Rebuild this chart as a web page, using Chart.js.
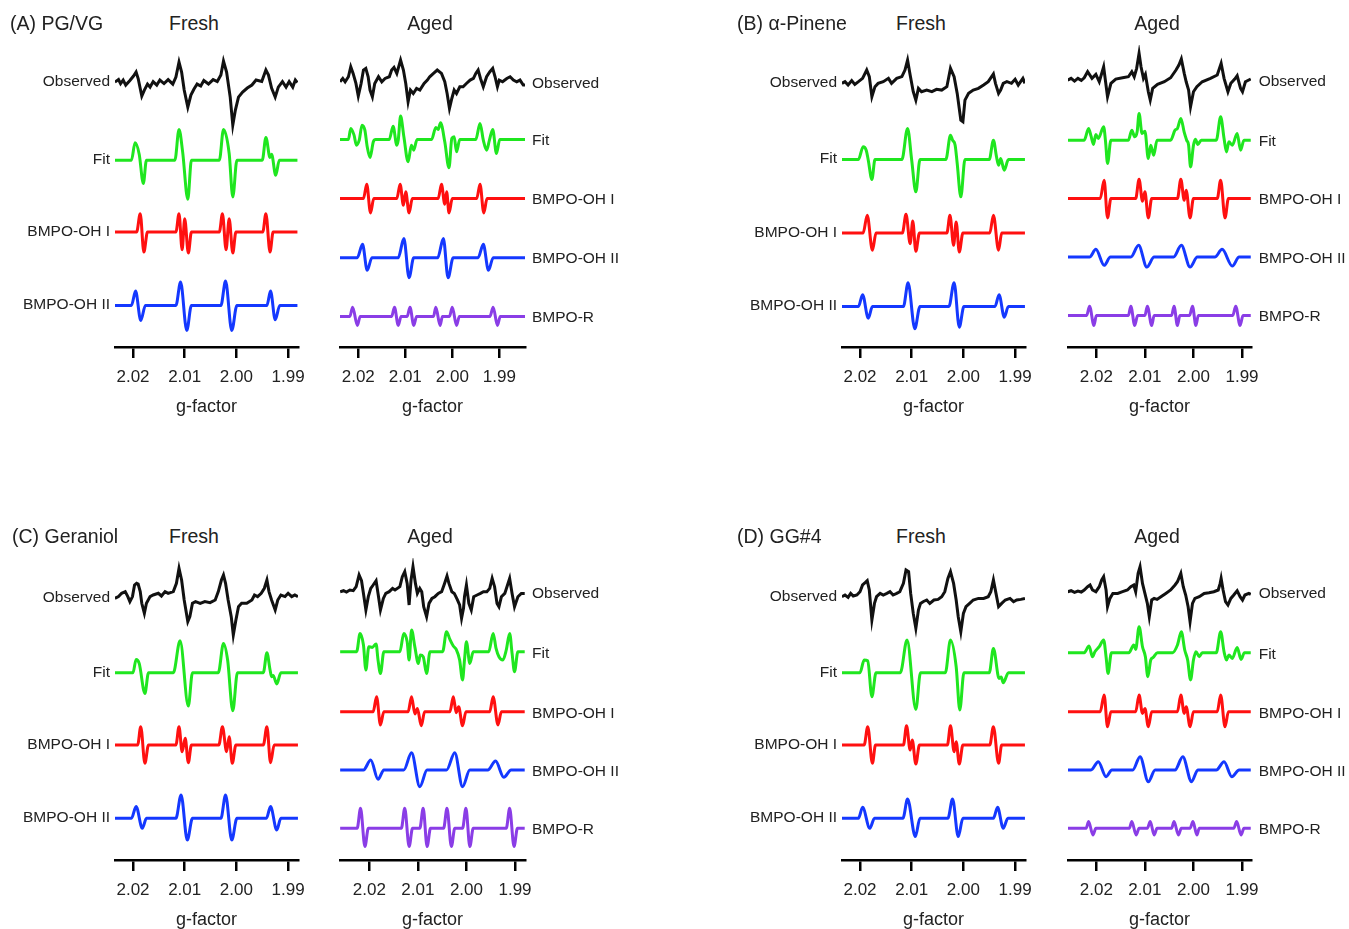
<!DOCTYPE html>
<html>
<head>
<meta charset="utf-8">
<script src="https://cdn.jsdelivr.net/npm/chart.js@4.4.1/dist/chart.umd.min.js"></script>
<style>
  body{margin:0;background:#fff;width:1349px;height:929px;overflow:hidden;position:relative;}
  .txt{position:absolute;white-space:nowrap;color:#222;font-family:'Liberation Sans',Arial,sans-serif;}
</style>
</head>
<body>
<script>
// g-factor ticks
const gTicks = [2.02, 2.01, 2.00, 1.99];

// each trace: [g-factor, signal] pairs, signal in arbitrary units (up = positive)
// (A) PG/VG fresh
const freshA_obs = [[2.0235,0],[2.0228,2.5],[2.0224,-1.5],[2.0219,2],[2.0214,-3],[2.0206,1.5],[2.0199,6],[2.0194,10],[2.0190,3.5],[2.0183,-14],[2.0178,-8],[2.0172,-2],[2.0167,-5],[2.0161,0.5],[2.0154,-3],[2.0148,2],[2.0140,-1.5],[2.0132,2.5],[2.0123,-2],[2.0117,5],[2.0111,20],[2.0106,10],[2.0101,-8],[2.0094,-25],[2.0088,-13],[2.0082,-7],[2.0076,-2],[2.0069,-4],[2.0063,1.5],[2.0054,-2],[2.0045,2.5],[2.0037,0.5],[2.0030,7],[2.0025,21],[2.0019,10],[2.0012,-15],[2.0007,-43],[2.0002,-28],[1.9996,-15],[1.9988,-10],[1.9979,-6],[1.9970,-3],[1.9962,2],[1.9951,0.5],[1.9943,12],[1.9938,7],[1.9932,-6],[1.9925,-15],[1.9919,-5],[1.9911,0.5],[1.9904,-5],[1.9898,0.5],[1.9891,-5],[1.9886,2],[1.9882,-0.5]];
const freshA_fit = [[2.0235,0],[2.0203,0],[2.0196,17.3],[2.0188,6],[2.0180,-23.3],[2.0174,0],[2.0119,0],[2.0111,30.7],[2.0104,8.3],[2.0094,-39],[2.0087,0],[2.0033,0],[2.0025,30.7],[2.0014,6.7],[2.0007,-36.7],[1.9999,0],[1.9950,0],[1.9943,22.7],[1.9935,2.7],[1.9932,6],[1.9924,-15],[1.9917,0],[1.9882,0]];
const freshA_oh1 = [[2.0235,0],[2.0193,0],[2.0186,18.3],[2.0179,-20],[2.0172,0],[2.0117,0],[2.0111,18.3],[2.0105,-17.7],[2.0100,13.3],[2.0093,-21],[2.0087,0],[2.0033,0],[2.0027,18.3],[2.0020,-17.7],[2.0014,13.3],[2.0007,-21],[2.0001,0],[1.9949,0],[1.9943,18.3],[1.9935,-20],[1.9929,0],[1.9882,0]];
const freshA_oh2 = [[2.0235,0],[2.0203,0],[2.0195,14.3],[2.0185,-15],[2.0176,0],[2.0117,0],[2.0108,23.3],[2.0096,-25],[2.0087,0],[2.0030,0],[2.0021,24.3],[2.0009,-25],[1.9999,0],[1.9941,0],[1.9934,14.3],[1.9925,-14.3],[1.9916,0],[1.9882,0]];

// (A) PG/VG aged
const agedA_obs = [[2.0239,0],[2.0233,3.3],[2.0228,0],[2.0221,5],[2.0216,15],[2.0211,8.3],[2.0205,-1.7],[2.0200,-14.3],[2.0194,-1.7],[2.0189,11.7],[2.0184,13.3],[2.0179,5],[2.0175,-8.3],[2.0170,-15],[2.0165,-1.7],[2.0157,5],[2.0150,0],[2.0143,3.3],[2.0134,5],[2.0129,11.7],[2.0124,14.3],[2.0118,8.3],[2.0110,21.7],[2.0104,11.7],[2.0099,-1.7],[2.0094,-20],[2.0089,-8.3],[2.0083,-11.7],[2.0076,-6.7],[2.0069,-8.3],[2.0060,-1.7],[2.0053,1.7],[2.0048,5],[2.0040,8.3],[2.0032,11.7],[2.0023,8.3],[2.0016,0],[2.0011,-11.7],[2.0006,-26.7],[2.0001,-16.7],[1.9996,-8.3],[1.9991,-11.7],[1.9984,-5],[1.9977,-5],[1.9970,-1.7],[1.9962,1.7],[1.9955,3.3],[1.9950,8.3],[1.9945,11.7],[1.9940,3.3],[1.9934,-5],[1.9927,5],[1.9920,10],[1.9914,13.3],[1.9909,5],[1.9904,-5],[1.9900,1.7],[1.9893,0],[1.9884,3.3],[1.9877,5],[1.9870,1.7],[1.9863,0],[1.9856,1.7],[1.9849,-3.3],[1.9845,-3.3]];
const agedA_fit = [[2.0239,0],[2.0221,0],[2.0216,11],[2.0209,4.3],[2.0204,-5.7],[2.0198,-0.7],[2.0192,14.3],[2.0186,9.3],[2.0181,-7.3],[2.0175,-18],[2.0168,-2.3],[2.0163,0],[2.0134,0],[2.0126,13.3],[2.0118,-5.7],[2.0115,-0.7],[2.0110,23.3],[2.0103,2.7],[2.0094,-22.3],[2.0087,-5.7],[2.0082,-10.7],[2.0075,0],[2.0044,0],[2.0035,12],[2.0030,10],[2.0025,16.7],[2.0016,-2.3],[2.0007,-28.3],[2.0001,1],[1.9996,2.7],[1.9991,-12.3],[1.9984,0],[1.9950,0],[1.9941,16],[1.9934,-0.7],[1.9927,-10.7],[1.9921,-0.7],[1.9914,10],[1.9906,-14],[1.9899,0],[1.9845,0]];
const agedA_oh1 = [[2.0239,0],[2.0189,0],[2.0182,14.3],[2.0174,-14.3],[2.0167,0],[2.0118,0],[2.0111,14.3],[2.0104,-6.7],[2.0099,6.7],[2.0092,-14.3],[2.0085,0],[2.0030,0],[2.0023,14.3],[2.0016,-5.7],[2.0012,6.7],[2.0007,-14.3],[2.0000,0],[1.9948,0],[1.9941,14.3],[1.9933,-14.3],[1.9926,0],[1.9845,0]];
const agedA_oh2 = [[2.0239,0],[2.0202,0],[2.0191,13.3],[2.0181,-12.7],[2.0171,0],[2.0115,0],[2.0103,19],[2.0092,-20],[2.0082,0],[2.0031,0],[2.0019,19],[2.0009,-20],[1.9998,0],[1.9945,0],[1.9934,13.3],[1.9923,-12.7],[1.9913,0],[1.9845,0]];
const agedA_r = [[2.0239,0],[2.0218,0],[2.0212,9.3],[2.0202,-9],[2.0196,0],[2.0129,0],[2.0123,9.3],[2.0115,-9],[2.0109,0],[2.0096,0],[2.0090,9.3],[2.0082,-9],[2.0076,0],[2.0040,0],[2.0035,9.3],[2.0026,-9],[2.0021,0],[2.0006,0],[2.0000,9.3],[1.9991,-9],[1.9985,0],[1.9920,0],[1.9913,9.3],[1.9904,-9],[1.9898,0],[1.9845,0]];

// (B) alpha-pinene fresh
const freshB_obs = [[2.0235,0],[2.0229,1.7],[2.0223,-1.7],[2.0216,2.7],[2.0210,-1],[2.0203,1.7],[2.0195,5],[2.0187,13.3],[2.0182,6.7],[2.0177,-13.3],[2.0171,-3.3],[2.0165,0],[2.0155,1.7],[2.0145,5],[2.0139,0],[2.0129,5],[2.0119,6.7],[2.0113,13.3],[2.0108,23.3],[2.0103,8.3],[2.0097,-8.3],[2.0092,-16.7],[2.0087,-5],[2.0081,-8.3],[2.0071,-6.7],[2.0061,-8.3],[2.0052,-6],[2.0042,-6.7],[2.0032,-3.3],[2.0025,15],[2.0018,6.7],[2.0012,-10],[2.0005,-36.7],[2.0001,-38.3],[1.9997,-16.7],[1.9990,-10],[1.9981,-6.7],[1.9971,-5],[1.9961,-1.7],[1.9952,1.7],[1.9942,9.3],[1.9938,0],[1.9932,-10],[1.9928,-6.7],[1.9923,0],[1.9916,1.7],[1.9907,0],[1.9900,4],[1.9894,-1.7],[1.9885,5],[1.9881,0]];
const freshB_fit = [[2.0235,0],[2.0203,0],[2.0194,12.7],[2.0188,9.3],[2.0184,-0.7],[2.0177,-20],[2.0171,0],[2.0119,0],[2.0108,31],[2.0100,-0.7],[2.0092,-32.3],[2.0084,0],[2.0034,0],[2.0025,24.3],[2.0021,19.3],[2.0016,14.3],[2.0012,-4],[2.0005,-37.3],[1.9997,0],[1.9950,0],[1.9942,19.3],[1.9936,2.7],[1.9932,-5.7],[1.9928,1],[1.9921,-10.7],[1.9913,0],[1.9881,0]];
const freshB_oh1 = [[2.0235,0],[2.0194,0],[2.0186,17.7],[2.0176,-17.3],[2.0169,0],[2.0118,0],[2.0111,18.7],[2.0103,-10.7],[2.0098,12],[2.0092,-18.3],[2.0085,0],[2.0032,0],[2.0026,17.7],[2.0019,-12.3],[2.0014,11],[2.0008,-19],[2.0001,0],[1.9949,0],[1.9942,17.7],[1.9932,-17.3],[1.9926,0],[1.9881,0]];
const freshB_oh2 = [[2.0235,0],[2.0203,0],[2.0195,11.7],[2.0184,-11.7],[2.0176,0],[2.0116,0],[2.0107,23.7],[2.0094,-22.3],[2.0084,0],[2.0028,0],[2.0018,23.7],[2.0008,-20.7],[1.9999,0],[1.9939,0],[1.9931,11.7],[1.9921,-10.7],[1.9913,0],[1.9881,0]];

// (B) alpha-pinene aged
const agedB_obs = [[2.0259,0],[2.0252,1.7],[2.0245,-1],[2.0238,1.7],[2.0231,-0.3],[2.0225,2.3],[2.0218,8.3],[2.0209,1.7],[2.0201,5.7],[2.0194,-1.7],[2.0185,13.3],[2.0177,-16.7],[2.0170,-3.3],[2.0160,1],[2.0146,2.3],[2.0134,3.3],[2.0127,8.3],[2.0122,3.3],[2.0117,11.7],[2.0112,26.7],[2.0108,13.3],[2.0103,1.7],[2.0099,5.7],[2.0093,-11.7],[2.0089,-20],[2.0084,-8.3],[2.0074,-4.3],[2.0060,-1.7],[2.0047,2.3],[2.0036,10],[2.0030,15],[2.0025,21],[2.0019,6.7],[2.0015,-1.7],[2.0010,-10],[2.0006,-26.7],[2.0000,-11.7],[1.9993,-6.7],[1.9982,-1.7],[1.9965,1.7],[1.9951,5],[1.9943,16.7],[1.9937,1.7],[1.9929,-11.7],[1.9923,-3.3],[1.9915,1],[1.9910,4.3],[1.9903,-8.3],[1.9899,-11.7],[1.9893,-1.7],[1.9882,1]];
const agedB_fit = [[2.0259,0],[2.0225,0],[2.0216,11.7],[2.0211,4.3],[2.0206,-4.3],[2.0201,5.7],[2.0196,1.7],[2.0185,13.3],[2.0181,-1.7],[2.0177,-23.3],[2.0170,0],[2.0134,0],[2.0127,10],[2.0121,3.3],[2.0116,8.3],[2.0112,26.7],[2.0106,6.7],[2.0100,9],[2.0093,-18.3],[2.0088,-5],[2.0082,-15],[2.0075,0],[2.0047,0],[2.0038,10],[2.0033,11.7],[2.0026,21.7],[2.0019,7.7],[2.0014,0],[2.0010,-5],[2.0006,-26.7],[2.0000,-5],[1.9996,1],[1.9991,-4.3],[1.9984,0],[1.9953,0],[1.9944,23.3],[1.9937,1.7],[1.9932,-11.7],[1.9927,-1.7],[1.9920,-5],[1.9910,6.7],[1.9903,-10],[1.9896,0],[1.9882,0]];
const agedB_oh1 = [[2.0259,0],[2.0192,0],[2.0184,18.3],[2.0177,-19.3],[2.0170,0],[2.0119,0],[2.0112,19.3],[2.0105,-2.7],[2.0100,6.7],[2.0093,-19.3],[2.0086,0],[2.0033,0],[2.0026,19.3],[2.0019,-1.7],[2.0015,8.3],[2.0007,-19.3],[2.0000,0],[1.9951,0],[1.9944,18.3],[1.9935,-19.3],[1.9928,0],[1.9882,0]];
const agedB_oh2 = [[2.0259,0],[2.0214,0],[2.0201,7.7],[2.0184,-8.3],[2.0171,0],[2.0129,0],[2.0113,11.7],[2.0096,-10],[2.0081,0],[2.0041,0],[2.0025,11.7],[2.0007,-10],[1.9992,0],[1.9956,0],[1.9941,7.7],[1.9920,-9],[1.9906,0],[1.9882,0]];
const agedB_r = [[2.0259,0],[2.0220,0],[2.0214,9.3],[2.0205,-10],[2.0200,0],[2.0134,0],[2.0129,9.3],[2.0121,-10],[2.0115,0],[2.0100,0],[2.0095,9.3],[2.0086,-10],[2.0081,0],[2.0045,0],[2.0040,9.3],[2.0033,-10],[2.0028,0],[2.0008,0],[2.0002,9.3],[1.9995,-10],[1.9990,0],[1.9919,0],[1.9913,9.3],[1.9904,-10],[1.9898,0],[1.9882,0]];

// (C) geraniol fresh
const freshC_obs = [[2.0235,0],[2.0228,1.7],[2.0222,5],[2.0215,6.7],[2.0210,1.7],[2.0206,-3.3],[2.0201,1.7],[2.0197,13.3],[2.0193,15],[2.0190,14.3],[2.0186,6.7],[2.0183,-5],[2.0178,-15],[2.0174,-5],[2.0167,1.7],[2.0161,3.3],[2.0151,5],[2.0145,2.3],[2.0138,6.7],[2.0132,5],[2.0122,6.7],[2.0116,15],[2.0111,30],[2.0106,18.3],[2.0101,-1.7],[2.0094,-23.3],[2.0090,-18.3],[2.0085,-5],[2.0079,-3.3],[2.0070,-5],[2.0061,-3.3],[2.0051,-4.3],[2.0041,-1.7],[2.0035,6.7],[2.0029,18.3],[2.0025,23.3],[2.0021,15],[2.0016,-1.7],[2.0010,-18.3],[2.0006,-36.7],[2.0001,-21.7],[1.9996,-8.3],[1.9990,-5],[1.9980,-5],[1.9970,-1.7],[1.9965,3.3],[1.9959,1.7],[1.9952,5],[1.9946,10],[1.9941,18.3],[1.9937,6.7],[1.9932,-1.7],[1.9925,-11.7],[1.9920,-1.7],[1.9914,3.3],[1.9906,1.7],[1.9900,5],[1.9893,1.7],[1.9887,3.3],[1.9881,1.7]];
const freshC_fit = [[2.0235,0],[2.0200,0],[2.0194,13.3],[2.0188,9.3],[2.0177,-20.7],[2.0170,0],[2.0122,0],[2.0109,32],[2.0093,-33.3],[2.0085,0],[2.0035,0],[2.0025,29.3],[2.0017,12.7],[2.0007,-38],[1.9998,0],[1.9948,0],[1.9941,20],[1.9935,3],[1.9932,-4],[1.9929,-2.7],[1.9922,-11.3],[1.9914,0],[1.9881,0]];
const freshC_oh1 = [[2.0235,0],[2.0191,0],[2.0185,18.3],[2.0177,-18.3],[2.0170,0],[2.0117,0],[2.0111,18.3],[2.0105,-6.7],[2.0099,6.7],[2.0093,-17.7],[2.0087,0],[2.0034,0],[2.0027,18.3],[2.0019,-6.7],[2.0014,8.3],[2.0008,-18.3],[2.0001,0],[1.9948,0],[1.9941,18.3],[1.9934,-17.7],[1.9927,0],[1.9881,0]];
const freshC_oh2 = [[2.0235,0],[2.0203,0],[2.0194,11.7],[2.0182,-10],[2.0174,0],[2.0117,0],[2.0107,23.3],[2.0095,-21.7],[2.0085,0],[2.0030,0],[2.0021,23.3],[2.0009,-21.7],[1.9999,0],[1.9942,0],[1.9934,11.7],[1.9922,-11.7],[1.9914,0],[1.9881,0]];

// (C) geraniol aged
const agedC_obs = [[2.0260,0],[2.0253,1],[2.0247,-0.3],[2.0240,1.7],[2.0233,1],[2.0227,5],[2.0221,16.7],[2.0216,11],[2.0212,-1.7],[2.0207,-18.3],[2.0202,-5],[2.0197,3.3],[2.0192,6.7],[2.0186,11],[2.0182,-1.7],[2.0177,-18.3],[2.0171,-6.7],[2.0166,-1.7],[2.0159,0],[2.0152,3.3],[2.0147,1.7],[2.0137,5],[2.0132,15],[2.0127,20],[2.0122,8.3],[2.0118,-13.3],[2.0114,11.7],[2.0110,25],[2.0105,8.3],[2.0101,-1.7],[2.0096,3.3],[2.0092,0],[2.0088,-15],[2.0082,-25],[2.0077,-11.7],[2.0071,-6.7],[2.0065,-5],[2.0058,-1.7],[2.0051,0],[2.0045,8.3],[2.0040,15.7],[2.0036,8.3],[2.0030,0],[2.0025,-1.7],[2.0019,-7.7],[2.0014,-13.3],[2.0010,-26.7],[2.0006,-16.7],[2.0004,-5],[2.0000,6.7],[1.9995,-11.7],[1.9990,-18.3],[1.9985,-5],[1.9978,-3.3],[1.9971,-1.7],[1.9965,0],[1.9958,0],[1.9952,3.3],[1.9947,13.3],[1.9942,5],[1.9937,-11.7],[1.9933,-15],[1.9928,-5],[1.9921,-1.7],[1.9916,5.7],[1.9911,13.3],[1.9906,-1.7],[1.9901,-15],[1.9894,-5],[1.9887,-1.7],[1.9880,-1.7]];
const agedC_fit = [[2.0260,0],[2.0226,0],[2.0219,18.3],[2.0212,6.7],[2.0207,-18.3],[2.0201,5],[2.0194,4.3],[2.0186,7.7],[2.0182,-8.3],[2.0177,-21.7],[2.0170,0],[2.0137,0],[2.0129,18.3],[2.0122,10],[2.0118,-8.3],[2.0113,21.7],[2.0106,4.3],[2.0099,-11.7],[2.0095,-3.3],[2.0089,-5],[2.0082,-21.7],[2.0075,0],[2.0049,0],[2.0041,20],[2.0034,12.3],[2.0027,5.7],[2.0021,2.3],[2.0014,-8.3],[2.0008,-28.3],[2.0004,-8.3],[2.0000,10],[1.9993,-11.7],[1.9986,0],[1.9954,0],[1.9945,18.3],[1.9939,3.3],[1.9933,-5],[1.9925,-8.3],[1.9918,1.7],[1.9911,18.3],[1.9906,-1.7],[1.9901,-20],[1.9894,0],[1.9880,0]];
const agedC_oh1 = [[2.0260,0],[2.0192,0],[2.0185,15],[2.0177,-13.3],[2.0170,0],[2.0120,0],[2.0113,15],[2.0106,-2.3],[2.0101,3.3],[2.0093,-14],[2.0086,0],[2.0034,0],[2.0027,15],[2.0021,-1],[2.0016,5],[2.0008,-14],[2.0001,0],[1.9952,0],[1.9945,15],[1.9935,-13.3],[1.9928,0],[1.9880,0]];
const agedC_oh2 = [[2.0260,0],[2.0212,0],[2.0197,10],[2.0182,-9.3],[2.0170,0],[2.0129,0],[2.0113,17.3],[2.0096,-16.7],[2.0081,0],[2.0041,0],[2.0024,17.3],[2.0008,-16.7],[1.9993,0],[1.9956,0],[1.9940,9],[1.9923,-7.3],[1.9908,0],[1.9880,0]];
const agedC_r = [[2.0260,0],[2.0225,0],[2.0218,20],[2.0209,-18.3],[2.0202,0],[2.0134,0],[2.0127,20],[2.0118,-18.3],[2.0111,0],[2.0096,0],[2.0089,20],[2.0081,-18.3],[2.0074,0],[2.0047,0],[2.0040,20],[2.0031,-18.3],[2.0024,0],[2.0008,0],[2.0001,20],[1.9993,-18.3],[1.9986,0],[1.9918,0],[1.9911,20],[1.9902,-18.3],[1.9895,0],[1.9880,0]];

// (D) GG#4 fresh
const freshD_obs = [[2.0235,0],[2.0229,1.7],[2.0223,-0.7],[2.0218,3.3],[2.0213,0.7],[2.0206,1.7],[2.0200,5],[2.0195,11.7],[2.0190,14],[2.0186,16],[2.0182,6.7],[2.0177,-23.3],[2.0172,-6.7],[2.0168,0],[2.0161,3.3],[2.0155,1.7],[2.0148,3.3],[2.0142,5],[2.0136,1.7],[2.0129,3.3],[2.0123,5],[2.0116,13.3],[2.0111,26.7],[2.0106,25],[2.0102,3.3],[2.0097,-16.7],[2.0092,-31.7],[2.0087,-13.3],[2.0083,-6.7],[2.0078,-5],[2.0071,-3.3],[2.0065,-6.7],[2.0057,-3.3],[2.0049,-2.7],[2.0042,0],[2.0036,5],[2.0030,18.3],[2.0025,25],[2.0019,13.3],[2.0014,-3.3],[2.0010,-20],[2.0005,-35],[2.0000,-16.7],[1.9995,-10],[1.9988,-6.7],[1.9981,-3.3],[1.9971,-1.7],[1.9961,-1.7],[1.9952,0],[1.9947,5],[1.9942,16.7],[1.9937,3.3],[1.9932,-10],[1.9926,-6.7],[1.9919,-3.3],[1.9910,-1.7],[1.9903,-5],[1.9897,-3.3],[1.9889,-2.7],[1.9881,-1.7]];
const freshD_fit = [[2.0235,0],[2.0200,0],[2.0192,12.7],[2.0185,12],[2.0177,-24],[2.0169,0],[2.0122,0],[2.0109,32.7],[2.0092,-36.7],[2.0083,0],[2.0035,0],[2.0025,32.7],[2.0014,6],[2.0007,-37.3],[1.9999,0],[1.9950,0],[1.9942,24.3],[1.9931,-5.7],[1.9927,-4.3],[1.9923,-10],[1.9913,0],[1.9881,0]];
const freshD_oh1 = [[2.0235,0],[2.0192,0],[2.0185,18.3],[2.0176,-18.3],[2.0170,0],[2.0116,0],[2.0110,19.3],[2.0103,-5],[2.0099,5],[2.0092,-19],[2.0085,0],[2.0031,0],[2.0025,19.3],[2.0018,-6.7],[2.0014,3.3],[2.0008,-19],[2.0001,0],[1.9949,0],[1.9942,18.3],[1.9932,-18.3],[1.9926,0],[1.9881,0]];
const freshD_oh2 = [[2.0235,0],[2.0203,0],[2.0195,11],[2.0181,-10],[2.0172,0],[2.0117,0],[2.0108,19.3],[2.0093,-18.3],[2.0084,0],[2.0030,0],[2.0021,19.3],[2.0010,-18.3],[2.0001,0],[1.9942,0],[1.9934,11],[1.9923,-10],[1.9914,0],[1.9881,0]];

// (D) GG#4 aged
const agedD_obs = [[2.0259,0],[2.0252,1],[2.0245,-0.7],[2.0238,0.7],[2.0231,-0.3],[2.0225,1.7],[2.0218,5],[2.0213,6.7],[2.0208,1.7],[2.0201,0],[2.0194,5],[2.0189,11.7],[2.0185,15],[2.0180,1.7],[2.0177,-15],[2.0172,-6.7],[2.0166,-1.7],[2.0156,-1.7],[2.0146,0],[2.0136,1.7],[2.0129,5],[2.0123,6.7],[2.0119,0],[2.0114,18.3],[2.0110,25],[2.0105,8.3],[2.0100,-1.7],[2.0095,-11.7],[2.0091,-25],[2.0086,-8.3],[2.0081,-6.7],[2.0075,-7.7],[2.0067,-5],[2.0057,-1.7],[2.0047,1.7],[2.0038,6.7],[2.0033,10],[2.0026,18.3],[2.0021,5],[2.0016,-3.3],[2.0011,-15],[2.0007,-30],[2.0002,-11.7],[1.9997,-6.7],[1.9988,-5],[1.9978,-1.7],[1.9968,-1],[1.9958,0],[1.9949,1.7],[1.9945,8.3],[1.9943,13.3],[1.9939,1.7],[1.9934,-10],[1.9929,-13.3],[1.9923,-6.7],[1.9917,-3.3],[1.9910,1],[1.9904,-5],[1.9899,-8.3],[1.9894,-3.3],[1.9886,-1.7],[1.9882,-2.7]];
const agedD_fit = [[2.0259,0],[2.0225,0],[2.0215,6.7],[2.0208,-4],[2.0203,1],[2.0194,6],[2.0185,12.7],[2.0180,-4],[2.0176,-20.7],[2.0169,0],[2.0133,0],[2.0123,7.7],[2.0119,3.3],[2.0112,26],[2.0105,6],[2.0099,-4],[2.0094,-24],[2.0088,-7.3],[2.0083,-4.7],[2.0074,0],[2.0043,0],[2.0033,7.7],[2.0025,21],[2.0018,2.7],[2.0012,-7.3],[2.0006,-27.3],[2.0000,-7.3],[1.9995,1],[1.9988,-4],[1.9982,0],[1.9953,0],[1.9944,21],[1.9937,1],[1.9932,-7.3],[1.9927,-2.3],[1.9920,-5.7],[1.9910,5.3],[1.9902,-6.7],[1.9895,0],[1.9882,0]];
const agedD_oh1 = [[2.0259,0],[2.0192,0],[2.0184,16.7],[2.0177,-15],[2.0170,0],[2.0119,0],[2.0112,16.7],[2.0105,-1.7],[2.0100,3.3],[2.0093,-15],[2.0086,0],[2.0033,0],[2.0026,16.7],[2.0019,-1.7],[2.0015,5],[2.0007,-15],[2.0000,0],[1.9951,0],[1.9944,16.7],[1.9935,-15],[1.9928,0],[1.9882,0]];
const agedD_oh2 = [[2.0259,0],[2.0211,0],[2.0196,8.3],[2.0180,-6.7],[2.0168,0],[2.0125,0],[2.0110,13.3],[2.0093,-11.7],[2.0079,0],[2.0038,0],[2.0022,13.3],[2.0004,-11.7],[1.9991,0],[1.9953,0],[1.9937,8.3],[1.9921,-6.7],[1.9906,0],[1.9882,0]];
const agedD_r = [[2.0259,0],[2.0221,0],[2.0216,6.7],[2.0207,-6.7],[2.0201,0],[2.0132,0],[2.0127,6.7],[2.0118,-6.7],[2.0112,0],[2.0095,0],[2.0089,6.7],[2.0081,-6.7],[2.0075,0],[2.0045,0],[2.0040,6.7],[2.0031,-6.7],[2.0025,0],[2.0007,0],[2.0001,6.7],[1.9993,-6.7],[1.9988,0],[1.9917,0],[1.9911,6.7],[1.9902,-6.7],[1.9896,0],[1.9882,0]];

const FONT = "'Liberation Sans', Arial, sans-serif";
const PAD = 40;
const COL = {obs:'#111111', fit:'#1fe61f', oh1:'#ff1010', oh2:'#1438ff', r:'#8a3de6'};
const NAMES = {obs:'Observed', fit:'Fit', oh1:'BMPO-OH I', oh2:'BMPO-OH II', r:'BMPO-R'};

// page layout of each half panel (chart area in page pixels, baselines of the stacked traces)
const panels = [
  {left:115, right:298, top:45, axisY:346.5, gMin:1.98809, gMax:2.02348, side:'left',
   traces:[['obs',freshA_obs,82],['fit',freshA_fit,160],['oh1',freshA_oh1,231.7],['oh2',freshA_oh2,305]]},
  {left:340, right:525, top:45, axisY:346.5, gMin:1.98453, gMax:2.02389, side:'right',
   traces:[['obs',agedA_obs,81.7],['fit',agedA_fit,139.3],['oh1',agedA_oh1,198.3],['oh2',agedA_oh2,257.3],['r',agedA_r,316]]},
  {left:842, right:1025, top:45, axisY:346.5, gMin:1.98809, gMax:2.02348, side:'left',
   traces:[['obs',freshB_obs,83.3],['fit',freshB_fit,159.3],['oh1',freshB_oh1,232.7],['oh2',freshB_oh2,306]]},
  {left:1068.3, right:1251.7, top:45, axisY:346.5, gMin:1.98815, gMax:2.02584, side:'right',
   traces:[['obs',agedB_obs,80],['fit',agedB_fit,140],['oh1',agedB_oh1,198.3],['oh2',agedB_oh2,256.7],['r',agedB_r,315]]},
  {left:115, right:298, top:558, axisY:860, gMin:1.98809, gMax:2.02348, side:'left',
   traces:[['obs',freshC_obs,598.3],['fit',freshC_fit,672.7],['oh1',freshC_oh1,745],['oh2',freshC_oh2,818.3]]},
  {left:340, right:525, top:558, axisY:860, gMin:1.98794, gMax:2.02603, side:'right',
   traces:[['obs',agedC_obs,591.7],['fit',agedC_fit,651.7],['oh1',agedC_oh1,711.7],['oh2',agedC_oh2,770],['r',agedC_r,828.3]]},
  {left:842, right:1025, top:558, axisY:860, gMin:1.98809, gMax:2.02348, side:'left',
   traces:[['obs',freshD_obs,596.7],['fit',freshD_fit,672.7],['oh1',freshD_oh1,745],['oh2',freshD_oh2,818.3]]},
  {left:1068.3, right:1251.7, top:558, axisY:860, gMin:1.98815, gMax:2.02584, side:'right',
   traces:[['obs',agedD_obs,591.7],['fit',agedD_fit,652.7],['oh1',agedD_oh1,711.7],['oh2',agedD_oh2,770],['r',agedD_r,828.3]]}
];

const titles = [
  ['(A) PG/VG', 10, 24, false], ['Fresh', 194, 24, true], ['Aged', 430, 24, true],
  ['(B) \u03b1-Pinene', 737, 24, false], ['Fresh', 921, 24, true], ['Aged', 1157, 24, true],
  ['(C) Geraniol', 12, 537, false], ['Fresh', 194, 537, true], ['Aged', 430, 537, true],
  ['(D) GG#4', 737, 537, false], ['Fresh', 921, 537, true], ['Aged', 1157, 537, true]
];

function addText(str, x, y, size, transform){
  const d = document.createElement('div');
  d.className = 'txt';
  d.textContent = str;
  d.style.left = x + 'px';
  d.style.top = y + 'px';
  d.style.fontSize = size + 'px';
  d.style.lineHeight = size + 'px';
  d.style.transform = transform;
  document.body.appendChild(d);
}

function config(p){
  return {
    type:'line',
    data:{
      datasets: p.traces.map(t => ({
        label: NAMES[t[0]],
        data: t[1].map(d => ({x:d[0], y:t[2] - d[1]})),
        borderColor: COL[t[0]],
        borderWidth: 3,
        pointRadius: 0,
        fill: false,
        tension: t[0] === 'obs' ? 0 : 0.4,
        cubicInterpolationMode: t[0] === 'obs' ? 'default' : 'monotone'
      }))
    },
    options:{
      responsive:false,
      maintainAspectRatio:false,
      animation:false,
      layout:{padding:{left:PAD, right:PAD, top:0, bottom:0}},
      plugins:{legend:{display:false}, tooltip:{enabled:false}},
      scales:{
        x:{
          type:'linear', reverse:true, min:p.gMin, max:p.gMax,
          afterBuildTicks: s => { s.ticks = gTicks.map(v => ({value:v})); },
          ticks:{callback: v => v.toFixed(2), font:{size:17, family:FONT}, color:'#222', padding:9, maxRotation:0, autoSkip:false},
          grid:{drawOnChartArea:false, drawTicks:true, tickLength:11, color:'#000', lineWidth:2.5},
          border:{display:true, color:'#000', width:2.5},
          title:{display:true, text:'g-factor', font:{size:18, family:FONT}, color:'#222', padding:{top:0, bottom:2}}
        },
        y:{display:false, reverse:true, min:p.top, max:p.axisY}
      }
    }
  };
}

function build(p, h){
  const cv = document.createElement('canvas');
  cv.width = Math.round(p.right - p.left + 2 * PAD);
  cv.height = Math.round(h);
  cv.style.position = 'absolute';
  cv.style.left = (p.left - PAD) + 'px';
  cv.style.top = p.top + 'px';
  document.body.appendChild(cv);
  return new Chart(cv, config(p));
}

panels.forEach(p => {
  const guess = 70;
  let chart = build(p, p.axisY - p.top + guess);
  const below = chart.height - chart.chartArea.bottom;
  if (Math.abs(below - guess) > 0.5) {
    const cv = chart.canvas;
    chart.destroy();
    cv.remove();
    chart = build(p, p.axisY - p.top + below);
  }
  p.traces.forEach(t => {
    if (p.side === 'left') addText(NAMES[t[0]], p.left - 5, t[2] - 1, 15.5, 'translate(-100%,-50%)');
    else addText(NAMES[t[0]], p.right + 7, t[2] + 1, 15.5, 'translate(0,-50%)');
  });
});

titles.forEach(t => addText(t[0], t[1], t[2], 19.5, t[3] ? 'translate(-50%,-50%)' : 'translate(0,-50%)'));
</script>
</body>
</html>
